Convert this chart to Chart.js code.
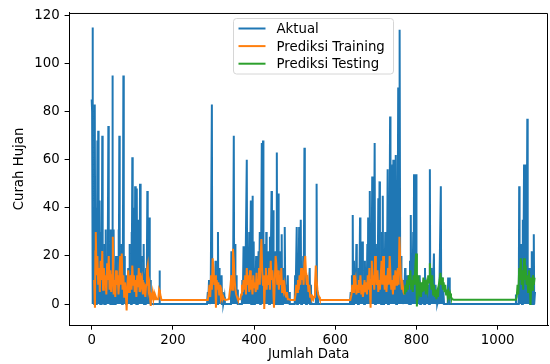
<!DOCTYPE html>
<html>
<head>
<meta charset="utf-8">
<script src="https://cdn.jsdelivr.net/npm/chart.js@4.4.0/dist/chart.umd.min.js"></script>
<style>
  body { margin: 0; background: #fff; }
  canvas { display: block; }
</style>
</head>
<body>
<canvas id="rainChart" width="550" height="364"></canvas>
<script>
// values as [index, curah hujan]; flat zero stretches kept by their ends
const aktual = [
  [0,85],[1,80],[2,115],[3,0],[4,40],[5,30],[6,0],[7,60],[8,83],[9,0],[10,25],[11,0],[12,40],[13,0],[14,68],[15,10],[16,72],[17,0],[18,20],[19,0],
  [20,43],[21,0],[22,15],[23,0],[24,30],[25,0],[26,70],[27,0],[28,20],[29,0],[30,12],[31,0],[32,25],[33,0],[34,31],[35,0],[36,8],[37,0],[38,20],[39,0],
  [41,74],[42,0],[43,15],[44,0],[45,25],[46,0],[47,31],[48,0],[49,10],[50,0],[51,95],[52,0],[53,18],[54,31],[55,0],[56,6],[57,12],[58,0],[59,8],[60,20],[61,0],[62,10],[63,5],[64,0],
  [65,12],[66,31],[67,0],[68,70],[69,0],[70,8],[71,15],[72,0],[73,10],[74,25],[75,0],[76,10],[77,0],[78,95],[79,0],[80,6],[81,20],[82,0],[83,5],[84,12],[85,0],[86,4],[87,8],[88,0],[89,10],[90,15],[91,0],
  [92,6],[93,25],[94,0],[95,12],[96,10],[97,0],[98,30],[99,0],[100,61],[101,0],[102,10],[103,40],[104,0],[105,15],[106,0],[107,49],[108,0],[109,20],[110,0],[111,48],[112,0],
  [113,25],[114,0],[115,35],[116,0],[117,12],[118,0],[119,50],[120,0],[121,8],[122,20],[123,0],[124,6],[125,10],[126,0],[127,12],[128,25],[129,0],[130,5],[131,8],[132,0],[133,10],[134,15],[135,0],
  [136,6],[137,47],[138,0],[139,8],[140,20],[141,0],[142,36],[143,0],[144,5],[145,10],[146,0],[166,0],[167,14],[168,0],
  [284,0],[286,5],[287,0],[289,10],[290,0],[292,3],[293,0],[296,83],[297,0],[299,12],[300,0],[302,8],[303,0],[305,18],[306,0],[308,10],[309,0],
  [311,30],[312,0],[314,15],[315,0],[317,8],[318,0],[320,12],[321,0],[323,5],[324,0],[327,3],[328,0],[343,0],[344,22],[345,0],[347,10],[348,0],
  [350,70],[351,0],[353,25],[354,0],[356,12],[357,0],[359,6],[360,0],[370,0],[371,10],[372,0],[374,24],[375,0],[377,15],[378,0],[382,60],[383,0],
  [385,20],[386,0],[388,30],[389,0],[392,43],[393,0],[394,12],[395,0],[396,45],[397,0],[399,26],[400,0],[402,15],[403,0],[405,20],[406,0],[408,10],
  [409,0],[411,22],[412,0],[414,30],[415,0],[416,18],[417,0],[419,67],[420,0],[422,68],[423,0],[425,20],[426,0],[428,25],[429,0],[430,30],[431,0],
  [433,12],[434,0],[436,22],[437,0],[439,28],[440,0],[443,47],[444,0],[445,20],[446,0],[447,39],[448,0],[450,15],[451,0],[453,22],[454,0],[456,63],
  [457,0],[458,20],[459,0],[460,46],[461,0],[463,22],[464,0],[466,18],[467,0],[468,29],[469,0],[471,15],[472,0],[474,10],[475,0],[476,32],[477,0],
  [479,8],[480,0],[483,12],[484,0],[487,5],[488,0],[500,0],[501,12],[502,0],[505,32],[506,0],[508,20],[509,0],[511,32],[512,0],[515,35],[516,0],
  [518,10],[519,0],[521,20],[522,0],[524,65],[525,0],[527,8],[528,0],[530,12],[531,0],[533,5],[534,0],[537,15],[538,0],[540,8],[541,0],[552,0],
  [553,12],[554,50],[555,0],[557,5],[558,0],
  [636,0],[638,5],[639,0],[641,12],[642,0],[643,37],[644,0],[646,18],[647,0],[649,8],[650,0],[652,25],[653,0],[655,10],[656,0],[658,15],[659,0],
  [661,36],[662,0],[664,20],[665,0],[667,26],[668,0],[670,10],[671,0],[673,18],[674,0],[676,8],[677,0],[679,25],[680,0],[681,36],[682,0],[684,15],
  [685,47],[686,0],[688,20],[689,0],[691,53],[692,0],[694,30],[695,0],[697,67],[698,0],[700,25],[701,0],[703,15],[704,0],[706,44],[707,0],[709,51],
  [710,0],[712,20],[713,0],[715,30],[716,0],[717,45],[718,0],[720,12],[721,0],[723,30],[724,0],[726,20],[727,0],[729,56],[730,0],[732,35],[733,0],
  [735,78],[736,0],[738,25],[739,0],[741,58],[742,0],[743,60],[744,0],[746,30],[747,0],[749,62],[750,0],[752,40],[753,0],[755,90],[756,0],[757,45],
  [758,0],[759,114],[760,0],[762,20],[763,0],[765,10],[766,0],[768,5],[769,0],[772,15],[773,0],[775,8],[776,0],[778,12],[779,0],[781,5],[782,0],
  [784,18],[785,0],[786,37],[787,0],[789,20],[790,0],[792,30],[793,0],[794,54],[795,0],[797,25],[798,0],[799,54],[800,0],[802,10],[803,0],[805,5],
  [806,0],[808,12],[809,0],[811,8],[812,0],[815,5],[816,0],[818,10],[819,0],[821,15],[822,0],[824,5],[825,0],[827,8],[828,0],[830,3],[831,0],
  [833,56],[834,0],[836,15],[837,0],[839,10],[840,0],[843,21],[844,0],[846,8],[847,0],[850,5],[851,0],[855,3],[856,0],[860,49],[861,0],[863,11],
  [864,0],[867,3],[868,0],[877,0],[878,11],[879,0],[881,11],[882,0],
  [1043,0],[1045,4],[1046,0],[1052,0],[1053,49],[1054,0],[1056,15],[1057,0],[1059,25],[1060,0],[1062,35],[1063,0],[1065,58],[1066,0],[1068,20],
  [1069,0],[1070,58],[1071,0],[1073,77],[1074,0],[1076,11],[1077,0],[1079,15],[1080,0],[1082,8],[1083,0],[1084,22],[1085,0],[1087,10],[1088,0],
  [1089,29],[1090,0],[1092,5]
];

const prediksiTraining = [
  [6,10],[8,-1.5],[9,22],[10,30],[12,12],[14,20],[16,8],[18,15],[20,5],[22,18],[24,10],[26,22],[28,6],[30,15],[32,8],[34,12],[36,4],[38,17],
  [40,10],[42,20],[44,6],[46,14],[48,5],[50,12],[52,28],[54,4],[56,10],[58,3],[60,14],[62,8],[64,12],[66,4],[68,10],[70,20],[72,8],[74,21],
  [76,6],[78,12],[80,3],[82,9],[84,5],[86,-2.7],[88,8],[90,14],[92,5],[94,9],[96,12],[98,6],[100,16],[102,8],[104,12],[106,5],[108,10],
  [110,3],[112,12],[114,7],[116,15],[118,5],[120,13],[122,8],[124,10],[126,4],[128,9],[130,6],[132,3],[134,8],[136,14],[138,16],[140,6],
  [142,8],[144,2],[145,-0.8],[146,4],[148,3],[150,5],[152,2],[154,4],[156,2],[158,3],[160,2],[164,2],[166,6],[168,5],[170,3],[172,1.7],
  [286,1.7],[288,4],[290,8],[292,3],[294,12],[296,6],[298,19],[300,14],[302,8],[304,12],[306,-1.5],[308,10],[310,6],[312,9],[314,4],[316,8],
  [318,3],[320,5],[322,2],[324,3],[326,2],[330,1.7],[338,2],[340,5],[342,8],[344,12],[346,6],[348,23],[350,18],[352,10],[354,6],[356,4],
  [358,3],[360,2],[366,2],[368,4],[370,8],[372,5],[374,10],[376,6],[378,12],[380,4],[382,15],[384,8],[386,12],[388,5],[390,14],[392,6],
  [394,10],[396,4],[398,12],[400,7],[402,9],[404,5],[406,13],[408,6],[410,10],[412,15],[414,8],[416,20],[418,27],[420,14],[422,8],[424,12],
  [425,-2],[427,10],[429,15],[431,6],[433,12],[435,8],[437,15],[439,6],[441,18],[443,10],[445,14],[447,8],[449,-1.5],[451,10],[453,20],
  [455,16],[457,8],[459,14],[461,6],[463,12],[465,8],[467,15],[469,5],[471,10],[473,6],[475,8],[477,4],[479,3],[481,5],[483,2],[486,2],
  [490,1.7],[500,1.7],[502,4],[504,8],[506,5],[508,10],[510,6],[512,12],[514,8],[516,15],[518,10],[520,14],[522,8],[524,17],[526,20],
  [528,12],[530,8],[532,10],[534,5],[536,8],[538,3],[540,4],[542,2],[544,3],[546,2],[548,3],[550,8],[552,16],[554,10],[556,6],[558,4],
  [560,3],[562,2],[565,1.7],
  [637,1.7],[640,4],[642,8],[644,5],[646,12],[648,8],[650,10],[652,4],[654,8],[656,5],[658,10],[660,6],[662,12],[664,4],[666,8],[668,3],
  [670,6],[672,10],[674,5],[676,9],[678,4],[680,12],[682,6],[684,15],[686,3],[687,-1.5],[688,10],[690,18],[692,8],[694,12],[696,6],[698,20],
  [700,12],[702,8],[704,14],[706,5],[708,10],[710,6],[712,12],[714,18],[716,8],[718,20],[720,10],[722,6],[724,12],[726,5],[728,10],[730,15],
  [732,8],[734,20],[736,12],[738,6],[740,10],[742,4],[744,12],[746,6],[748,14],[750,8],[752,10],[754,15],[756,8],[758,28],[760,18],[762,10],
  [764,6],[766,8],[768,5],[770,4]
];

const prediksiTesting = [
  [771,4],[773,8],[775,5],[777,10],[779,6],[781,12],[783,8],[785,14],[787,6],[789,10],[791,5],[793,12],[795,8],[797,15],[799,21],[801,-1],
  [803,8],[805,12],[807,5],[809,7],[811,3],[813,9],[815,5],[817,11],[819,6],[821,10],[823,4],[825,8],[827,6],[829,12],[831,9],[833,17],
  [835,10],[837,6],[839,12],[841,4],[843,8],[845,3],[847,6],[849,2],[851,5],[853,3],[855,8],[857,10],[859,13],[861,8],[863,11],[865,6],
  [867,9],[869,5],[871,8],[873,4],[875,6],[877,3],[879,5],[881,3],[883,4.4],[885,3],[888,2],[892,1.8],[1045,1.8],[1047,3],[1049,8],
  [1051,4],[1053,15],[1055,10],[1057,19],[1059,8],[1061,14],[1063,6],[1065,19],[1067,10],[1069,16],[1071,8],[1073,12],[1075,5],[1077,14],
  [1079,8],[1081,-0.4],[1083,11],[1085,6],[1087,12],[1089,8],[1091,11]
];

const xTicks = [0, 200, 400, 600, 800, 1000];
const yTicks = [0, 20, 40, 60, 80, 100, 120];
const seriesNames = ['Aktual', 'Prediksi Training', 'Prediksi Testing'];
const seriesColors = ['#1f77b4', '#ff7f0e', '#2ca02c'];

const FONT = '"DejaVu Sans", sans-serif';
const toPoints = arr => arr.map(p => ({ x: p[0], y: p[1] }));

// top/right spines, axis titles and the matplotlib style legend box
const extras = {
    id: 'extras',
    afterDraw(chart) {
        const c = chart.ctx;
        const a = chart.chartArea;
        c.save();
        c.strokeStyle = '#000';
        c.lineWidth = 1;
        c.beginPath();
        c.moveTo(a.left, a.top + 0.5);
        c.lineTo(a.right - 0.5, a.top + 0.5);
        c.lineTo(a.right - 0.5, a.bottom);
        c.stroke();

        c.fillStyle = '#000';
        c.font = '13.3px ' + FONT;
        c.textAlign = 'center';
        c.textBaseline = 'middle';
        c.fillText('Jumlah Data', (a.left + a.right) / 2, 355);
        c.save();
        c.translate(20, (a.top + a.bottom) / 2);
        c.rotate(-Math.PI / 2);
        c.fillText('Curah Hujan', 0, 0);
        c.restore();

        // legend
        const lx = 233.5, ly = 18.5, lw = 160, lh = 55.5, r = 3;
        c.beginPath();
        c.moveTo(lx + r, ly);
        c.arcTo(lx + lw, ly, lx + lw, ly + lh, r);
        c.arcTo(lx + lw, ly + lh, lx, ly + lh, r);
        c.arcTo(lx, ly + lh, lx, ly, r);
        c.arcTo(lx, ly, lx + lw, ly, r);
        c.closePath();
        c.fillStyle = 'rgba(255,255,255,0.8)';
        c.fill();
        c.strokeStyle = '#d6d6d6';
        c.stroke();
        c.textAlign = 'left';
        seriesNames.forEach((name, i) => {
            const y = 28.5 + i * 17.6;
            c.strokeStyle = seriesColors[i];
            c.lineWidth = 2;
            c.beginPath();
            c.moveTo(238.5, y);
            c.lineTo(265.5, y);
            c.stroke();
            c.fillStyle = '#000';
            c.fillText(name, 276.5, y + 1);
        });
        c.restore();
    }
};

new Chart(document.getElementById('rainChart'), {
    type: 'line',
    data: {
        datasets: [
            { label: seriesNames[0], data: toPoints(aktual), borderColor: seriesColors[0], order: 3 },
            { label: seriesNames[1], data: toPoints(prediksiTraining), borderColor: seriesColors[1], order: 2 },
            { label: seriesNames[2], data: toPoints(prediksiTesting), borderColor: seriesColors[2], order: 1 }
        ]
    },
    options: {
        responsive: false,
        animation: false,
        devicePixelRatio: 1,
        elements: {
            line: { borderWidth: 2, tension: 0, fill: false, borderJoinStyle: 'miter' },
            point: { radius: 0, hoverRadius: 0 }
        },
        layout: { padding: { left: 0, top: 12.7, right: 2, bottom: 0 } },
        plugins: { legend: { display: false }, tooltip: { enabled: false } },
        scales: {
            x: {
                type: 'linear',
                min: -55.2,
                max: 1124,
                afterBuildTicks: s => { s.ticks = xTicks.map(v => ({ value: v })); },
                afterFit: s => { s.height = 39; },
                grid: { drawOnChartArea: false, drawTicks: true, tickLength: 4.7, color: '#000' },
                border: { display: true, color: '#000', width: 1 },
                ticks: { color: '#000', padding: 3, maxRotation: 0, font: { family: FONT, size: 13.3 },
                         callback: v => String(v) }
            },
            y: {
                type: 'linear',
                min: -8.7,
                max: 121,
                afterBuildTicks: s => { s.ticks = yTicks.map(v => ({ value: v })); },
                afterFit: s => { s.width = 69.3; },
                grid: { drawOnChartArea: false, drawTicks: true, tickLength: 4.7, color: '#000' },
                border: { display: true, color: '#000', width: 1 },
                ticks: { color: '#000', padding: 5, font: { family: FONT, size: 13.3 },
                         callback: v => String(v) }
            }
        }
    },
    plugins: [extras]
});
</script>
</body>
</html>
